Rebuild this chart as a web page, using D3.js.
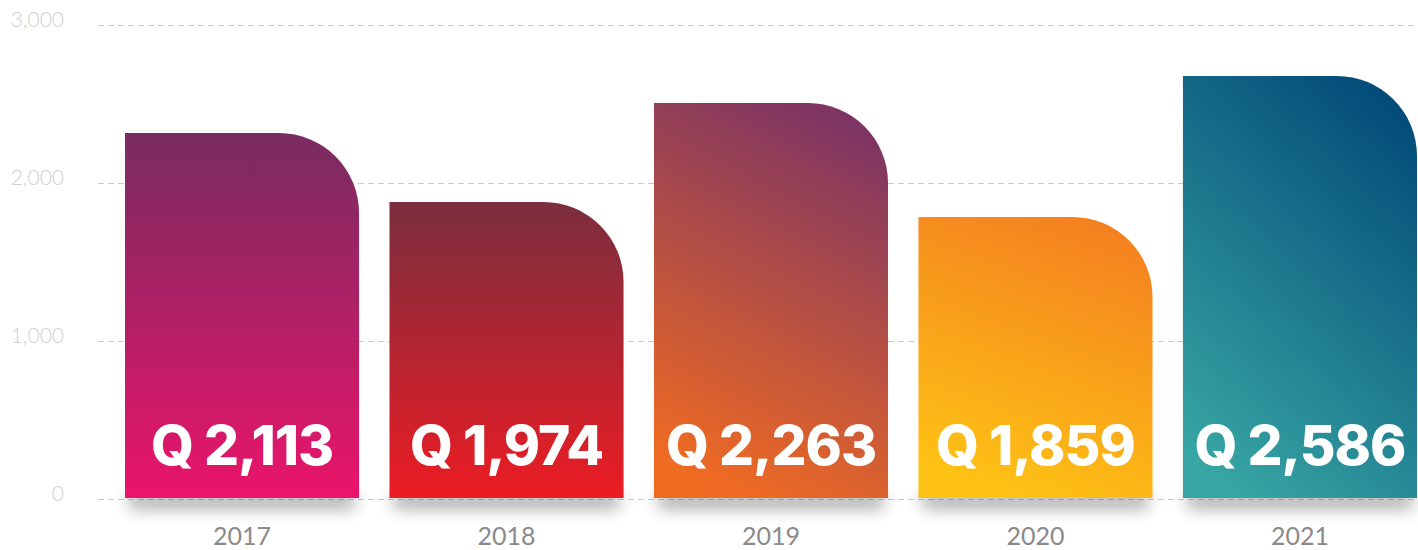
<!DOCTYPE html>
<html>
<head>
<meta charset="utf-8">
<script src="https://cdn.jsdelivr.net/npm/d3@7"></script>
<style>
    body { margin: 0; background: #fff; }
    svg { display: block; }
</style>
</head>
<body>
<svg width="1418" height="550"></svg>
<script>
// values; the printed labels differ from them in the source
const years = ['2017', '2018', '2019', '2020', '2021'];
const barValues = [2316, 1880, 2506, 1785, 2677];
const barLabels = ['Q 2,113', 'Q 1,974', 'Q 2,263', 'Q 1,859', 'Q 2,586'];
const yTicks = [0, 1000, 2000, 3000];

// gradient per bar: [top colour, bottom colour, horizontal tilt]
const gradients = [
    ['#782c60', '#ea146a', 0],
    ['#7a2e3e', '#ec1c24', 0],
    ['#7e3563', '#f06b22', 0.15],
    ['#f48120', '#fec314', 0.15],
    ['#034c79', '#37a5a3', 0.25],
];

const svg = d3.select('svg');
const width = +svg.attr('width');

const x = d3.scaleBand()
    .domain(years)
    .range([125, 1417])
    .paddingInner(0.115)
    .paddingOuter(0);

const y = d3.scaleLinear()
    .domain([0, 3000])
    .range([499, 25]);

const defs = svg.append('defs');

gradients.forEach((g, i) => {
    const lg = defs.append('linearGradient')
        .attr('id', `grad${i}`)
        .attr('x1', 0.5 + g[2])
        .attr('y1', 0)
        .attr('x2', 0.5 - g[2])
        .attr('y2', 1);
    lg.append('stop').attr('offset', '0%').attr('stop-color', g[0]);
    lg.append('stop').attr('offset', '100%').attr('stop-color', g[1]);
});

defs.append('filter')
    .attr('id', 'blur')
    .attr('x', '-20%').attr('y', '-150%')
    .attr('width', '140%').attr('height', '400%')
    .append('feGaussianBlur')
    .attr('stdDeviation', 8);

// y axis: dashed grid + light labels
const yAxis = d3.axisLeft(y)
    .tickValues(yTicks)
    .tickFormat(d3.format(','))
    .tickSize(-(width - 98))
    .tickPadding(34);

const yg = svg.append('g')
    .attr('transform', 'translate(98,0)')
    .call(yAxis);

yg.select('.domain').remove();
yg.selectAll('.tick line')
    .attr('stroke', '#c9c9c9')
    .attr('stroke-width', 1)
    .attr('stroke-dasharray', '6,4');
yg.selectAll('.tick text')
    .attr('fill', '#d0d0d0')
    .attr('dy', '0.05em')
    .style('font-family', 'Lato, sans-serif')
    .style('font-weight', 300)
    .style('font-size', '21px');

const bars = years.map((yr, i) => ({ year: yr, value: barValues[i], label: barLabels[i], i }));

// soft shadow under each bar
svg.append('g')
    .selectAll('rect')
    .data(bars)
    .join('rect')
    .attr('x', d => x(d.year) + 4)
    .attr('y', y(0) - 6)
    .attr('width', x.bandwidth() - 8)
    .attr('height', 16)
    .attr('fill', '#000')
    .attr('opacity', 0.32)
    .attr('filter', 'url(#blur)');

const r = 80;
function barPath(d) {
    const x0 = x(d.year);
    const x1 = x0 + x.bandwidth();
    const y0 = y(d.value);
    const y1 = y(0) - 1;
    return `M${x0},${y1}V${y0}H${x1 - r}A${r},${r} 0 0 1 ${x1},${y0 + r}V${y1}Z`;
}

svg.append('g')
    .selectAll('path')
    .data(bars)
    .join('path')
    .attr('d', barPath)
    .attr('fill', d => `url(#grad${d.i})`);

svg.append('g')
    .selectAll('text')
    .data(bars)
    .join('text')
    .attr('x', d => x(d.year) + x.bandwidth() / 2)
    .attr('y', 465)
    .attr('text-anchor', 'middle')
    .attr('fill', '#fff')
    .style('font-family', 'Inter, sans-serif')
    .style('font-weight', 800)
    .style('font-size', '55px')
    .style('letter-spacing', '-1px')
    .text(d => d.label);

// year labels
svg.append('g')
    .selectAll('text')
    .data(bars)
    .join('text')
    .attr('x', d => x(d.year) + x.bandwidth() / 2)
    .attr('y', 545)
    .attr('text-anchor', 'middle')
    .attr('fill', '#8a8a8a')
    .style('font-family', 'Lato, sans-serif')
    .style('font-weight', 400)
    .style('font-size', '25px')
    .text(d => d.year);
</script>
</body>
</html>
